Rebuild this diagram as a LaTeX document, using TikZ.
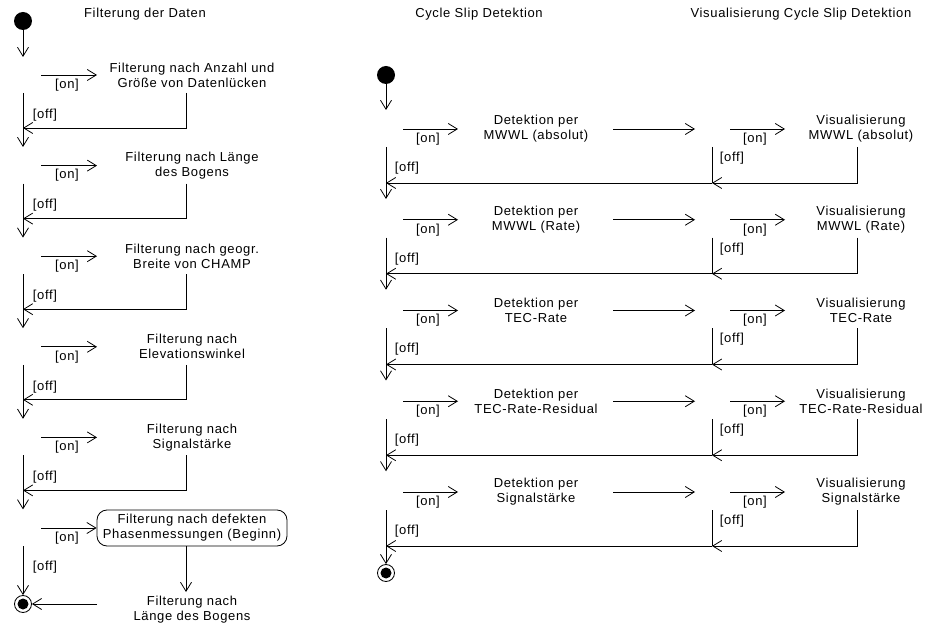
\documentclass[tikz,border=0pt]{standalone}
\usepackage{fontspec}
\setmainfont{Liberation Sans}[LetterSpace=5]
\usepackage{tikz}
\usetikzlibrary{arrows.meta}
\usetikzlibrary{math}

\tikzset{
    flow/.style={-{Straight Barb[length=9pt,width=11pt]}, line width=0.8pt},
    act/.style={align=center, font=\fontsize{13}{15}\selectfont, inner sep=0pt},
    guard/.style={font=\fontsize{13}{14}\selectfont, inner sep=0pt},
    startnode/.style={circle, fill=black, minimum size=18pt, inner sep=0pt},
    endnode/.style={circle, draw, line width=0.8pt, minimum size=17pt, inner sep=0pt,
        path picture={\fill (path picture bounding box.center) circle (5.5pt);}},
    roundbox/.style={act, draw, line width=0.8pt, rounded corners=10pt,
        minimum width=190pt, minimum height=36pt},
}

\begin{document}
\begin{tikzpicture}[x=1pt, y=-1pt]
    \useasboundingbox (0,0) rectangle (927,628);
    %% Ueberschriften
    \node[act] (tFilter) at (145,14) {Filterung der Daten};
    \node[act] (tCycle) at (479,14) {Cycle Slip Detektion};
    \node[act] (tVis) at (801,14) {Visualisierung Cycle Slip Detektion};

    %% linke Spalte: Filterung der Daten
    \node[startnode] (Lstart) at (23,21) {};
    \coordinate (Lgo) at (23,57);
    \draw[flow] (Lstart) -- (Lgo);
    \foreach \i/\txt in {0/{Filterung nach Anzahl und\\Größe von Datenlücken},
                         1/{Filterung nach Länge\\des Bogens},
                         2/{Filterung nach geogr.\\Breite von CHAMP},
                         3/{Filterung nach\\Elevationswinkel},
                         4/{Filterung nach\\Signalstärke}}{
        \tikzmath{\y = 75 + 90.6*\i;}
        \coordinate (Lin\i) at (41,\y);
        \coordinate (Lon\i) at (97,\y);
        \node[act] (Lact\i) at (192,\y) {\txt};
        \coordinate (Ltop\i) at (23,\y+18);
        \coordinate (Lrt\i) at (186,\y+18);
        \coordinate (Lm\i) at (23,\y+53);
        \coordinate (Lnx\i) at (23,\y+72);
        \draw[flow] (Lin\i) -- (Lon\i);
        \node[guard] (Lg\i) at (67,\y+10) {[on]};
        \draw[flow] (Ltop\i) -- (Lnx\i);
        \draw[flow] (Lrt\i) |- (Lm\i);
        \node[guard] (Lo\i) at (45,\y+40) {[off]};
    }
    %% letzter Block mit Rahmen
    \coordinate (Lin5) at (41,528);
    \node[roundbox] (Lbox) at (192,528) {Filterung nach defekten\\Phasenmessungen (Beginn)};
    \draw[flow] (Lin5) -- (Lbox.west);
    \node[guard] (Lg5) at (67,538) {[on]};
    \coordinate (Lbt) at (186,592);
    \draw[flow] (Lbox.south -| Lrt4) -- (Lbt);
    \node[act] (Lnext) at (192,610) {Filterung nach\\Länge des Bogens};
    \node[endnode] (Lfin) at (23,604) {};
    \coordinate (Ltop5) at (23,546);
    \coordinate (Lback) at (97,604);
    \draw[flow] (Ltop5) -- (Lfin);
    \draw[flow] (Lback) -- (Lfin);
    \node[guard] (Lo5) at (45,567) {[off]};

    %% mittlere und rechte Spalte: Detektion und Visualisierung
    \node[startnode] (Mstart) at (386,75) {};
    \coordinate (Mgo) at (386,110);
    \draw[flow] (Mstart) -- (Mgo);
    \node[endnode] (Mfin) at (386,573) {};
    \foreach \i/\what in {0/{MWWL (absolut)}, 1/{MWWL (Rate)}, 2/{TEC-Rate},
                          3/{TEC-Rate-Residual}, 4/{Signalstärke}}{
        \tikzmath{\y = 129 + 90.75*\i;}
        \coordinate (Min\i) at (403,\y);
        \coordinate (Mon\i) at (458,\y);
        \node[act] (Mact\i) at (536,\y) {Detektion per\\\what};
        \coordinate (Mlong\i) at (613,\y);
        \coordinate (Mlend\i) at (695,\y);
        \coordinate (Vin\i) at (730,\y);
        \coordinate (Von\i) at (785,\y);
        \node[act] (Vact\i) at (861,\y) {Visualisierung\\\what};
        \coordinate (Mtop\i) at (386,\y+18);
        \coordinate (Mm\i) at (386,\y+54);
        \coordinate (Mnx\i) at (386,\y+70);
        \coordinate (Vtop\i) at (712,\y+18);
        \coordinate (Vm\i) at (712,\y+54);
        \coordinate (Vrt\i) at (857,\y+18);
        \draw[flow] (Min\i) -- (Mon\i);
        \node[guard] (Mg\i) at (428,\y+10) {[on]};
        \draw[flow] (Mlong\i) -- (Mlend\i);
        \draw[flow] (Vin\i) -- (Von\i);
        \node[guard] (Vg\i) at (755,\y+10) {[on]};
        \draw[flow] (Vrt\i) |- (Vm\i);
        \draw[line width=0.8pt] (Vtop\i) -- (Vm\i);
        \draw[flow] (Vm\i) -- (Mm\i);
        \node[guard] (Vo\i) at (732,\y+29) {[off]};
        \node[guard] (Mo\i) at (407,\y+39) {[off]};
        \ifnum\i<4
            \draw[flow] (Mtop\i) -- (Mnx\i);
        \else
            \draw[flow] (Mtop\i) -- (Mfin);
        \fi
    }
\end{tikzpicture}
\end{document}
